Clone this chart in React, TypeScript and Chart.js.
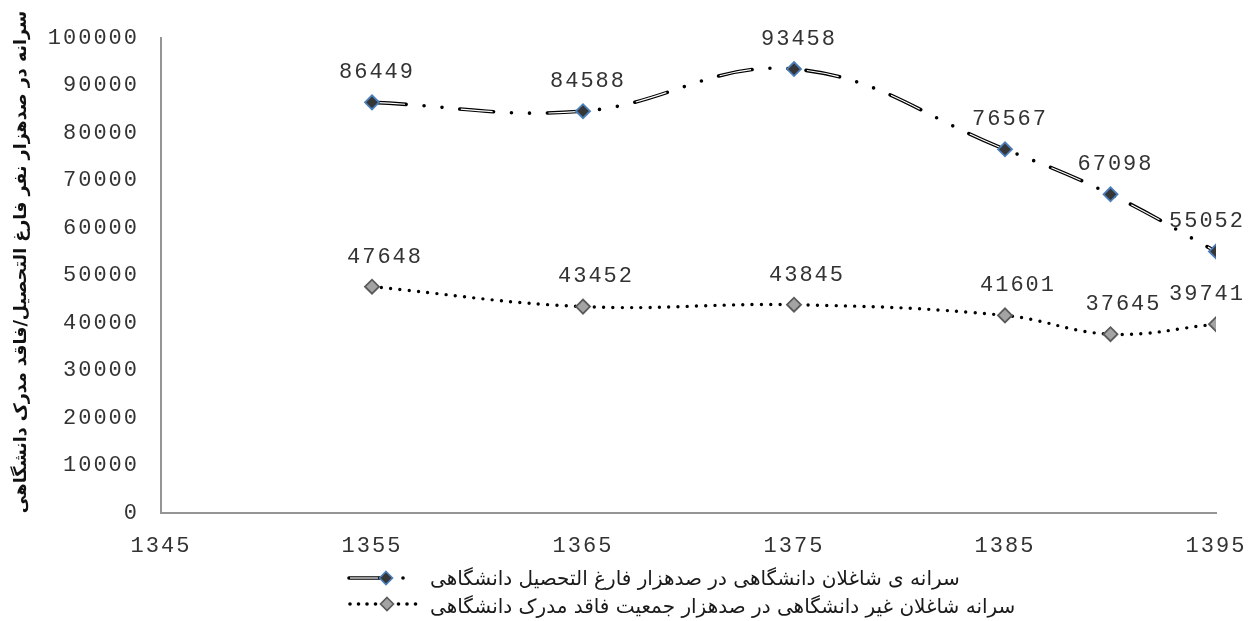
import React, { useEffect, useRef } from "react";
import { Chart, registerables } from "chart.js";

Chart.register(...registerables);

// ---- data ----
const years = [1355, 1365, 1375, 1385, 1390, 1395];
const graduatesRate = [86449, 84588, 93458, 76567, 67098, 55052];
const nonGraduatesRate = [47648, 43452, 43845, 41601, 37645, 39741];
const xTickValues = [1345, 1355, 1365, 1375, 1385, 1395];
const yMin = 0;
const yMax = 100000;
const yStep = 10000;
const seriesNames = [
  "سرانه ی شاغلان دانشگاهی در صدهزار فارغ التحصیل دانشگاهی",
  "سرانه شاغلان غیر دانشگاهی در صدهزار جمعیت فاقد مدرک دانشگاهی",
];
const yTitle = "سرانه در صدهزار نفر فارغ التحصیل/فاقد مدرک دانشگاهی";

const MONO = '"Liberation Mono", "Courier New", monospace';
const ARABIC = '"DejaVu Sans", sans-serif';
const NUM_SIZE = 22;
const NUM_SPACING = "2px";
const NUM_COLOR = "#333333";

const S1_FILL = "#363636";
const S1_BORDER = "#4a7ebb";
const S2_FILL = "#a3a3a3";
const S2_BORDER = "#5a5a5a";

function drawDiamond(ctx: CanvasRenderingContext2D, x: number, y: number, r: number, fill: string, stroke: string) {
  ctx.beginPath();
  ctx.moveTo(x, y - r);
  ctx.lineTo(x + r, y);
  ctx.lineTo(x, y + r);
  ctx.lineTo(x - r, y);
  ctx.closePath();
  ctx.fillStyle = fill;
  ctx.fill();
  ctx.lineWidth = 1.6;
  ctx.strokeStyle = stroke;
  ctx.stroke();
}

const spacingPlugin = {
  id: "numSpacing",
  beforeDraw(chart: any) {
    (chart.ctx as any).letterSpacing = NUM_SPACING;
  },
  afterDraw(chart: any) {
    (chart.ctx as any).letterSpacing = "0px";
  },
};

const valueLabelPlugin = {
  id: "valueLabels",
  afterDatasetsDraw(chart: any) {
    const ctx = chart.ctx as CanvasRenderingContext2D;
    ctx.save();
    (ctx as any).letterSpacing = NUM_SPACING;
    ctx.font = `${NUM_SIZE}px ${MONO}`;
    ctx.fillStyle = NUM_COLOR;
    ctx.textAlign = "center";
    ctx.textBaseline = "middle";
    chart.data.datasets.forEach((ds: any, di: number) => {
      if (!ds.valueLabels) return;
      const meta = chart.getDatasetMeta(di);
      meta.data.forEach((pt: any, i: number) => {
        const text = String(ds.data[i].y);
        const w = ctx.measureText(text).width;
        let x = pt.x + ds.labelDx;
        x = Math.min(x, chart.width - 4 - w / 2);
        ctx.fillText(text, x + 1, pt.y - 30);
      });
    });
    ctx.restore();
  },
};

const titleAndLegendPlugin = {
  id: "titleLegend",
  afterDraw(chart: any) {
    const ctx = chart.ctx as CanvasRenderingContext2D;
    ctx.save();
    (ctx as any).letterSpacing = "0px";
    (ctx as any).direction = "rtl";

    // y axis title
    ctx.save();
    ctx.translate(21, 262);
    ctx.rotate(-Math.PI / 2);
    ctx.font = `bold 17.5px ${ARABIC}`;
    ctx.fillStyle = "#111";
    ctx.textAlign = "center";
    ctx.textBaseline = "middle";
    ctx.fillText(yTitle, 0, 0);
    ctx.restore();

    const fontSize = 20;
    ctx.font = `${fontSize}px ${ARABIC}`;
    ctx.textAlign = "left";
    ctx.textBaseline = "middle";

    // row 1
    const y1 = 578;
    ctx.lineCap = "round";
    ctx.strokeStyle = "#000";
    ctx.lineWidth = 3.6;
    ctx.beginPath();
    ctx.moveTo(349, y1);
    ctx.lineTo(380, y1);
    ctx.stroke();
    ctx.lineCap = "butt";
    ctx.strokeStyle = "#fff";
    ctx.lineWidth = 1.2;
    ctx.beginPath();
    ctx.moveTo(350, y1);
    ctx.lineTo(378, y1);
    ctx.stroke();
    drawDiamond(ctx, 386, y1, 6.5, S1_FILL, S1_BORDER);
    ctx.fillStyle = "#000";
    ctx.beginPath();
    ctx.arc(403, y1, 1.8, 0, Math.PI * 2);
    ctx.fill();
    ctx.fillStyle = "#1a1a1a";
    ctx.fillText(seriesNames[0], 430, y1 + 2);

    // row 2
    const y2 = 604;
    ctx.fillStyle = "#000";
    [350, 358.5, 367, 375.5, 398.5, 407, 415.5].forEach((dx) => {
      ctx.beginPath();
      ctx.arc(dx, y2, 1.8, 0, Math.PI * 2);
      ctx.fill();
    });
    drawDiamond(ctx, 387, y2, 6.5, S2_FILL, S2_BORDER);
    ctx.fillStyle = "#1a1a1a";
    ctx.fillText(seriesNames[1], 430, y2 + 4);
    ctx.restore();
  },
};

export default function App() {
  const canvasRef = useRef<HTMLCanvasElement | null>(null);

  useEffect(() => {
    if (!canvasRef.current) return;
    const pts = (vals: number[]) => years.map((x, i) => ({ x, y: vals[i] }));

    const chart = new Chart(canvasRef.current, {
      type: "line",
      data: {
        datasets: [
          {
            label: seriesNames[0],
            data: pts(graduatesRate),
            showLine: false,
            pointStyle: "rectRot",
            pointRadius: 7,
            pointBackgroundColor: S1_FILL,
            pointBorderColor: S1_BORDER,
            pointBorderWidth: 1.8,
            order: 1,
            valueLabels: true,
            labelDx: 4,
          } as any,
          {
            label: seriesNames[1],
            data: pts(nonGraduatesRate),
            borderColor: "#000",
            borderWidth: 3.4,
            borderDash: [0, 9.3],
            borderCapStyle: "round",
            tension: 0.4,
            pointStyle: "rectRot",
            pointRadius: 7,
            pointBackgroundColor: S2_FILL,
            pointBorderColor: S2_BORDER,
            pointBorderWidth: 1.8,
            order: 2,
            valueLabels: true,
            labelDx: 12,
          } as any,
          {
            label: "inner",
            data: pts(graduatesRate),
            borderColor: "#ffffff",
            borderWidth: 1.2,
            borderDash: [32, 56],
            borderDashOffset: -1,
            borderCapStyle: "butt",
            tension: 0.4,
            pointRadius: 0,
            order: 3,
          } as any,
          {
            label: "outer",
            data: pts(graduatesRate),
            borderColor: "#000000",
            borderWidth: 3.6,
            borderDash: [34, 18, 0, 18, 0, 18],
            borderCapStyle: "round",
            tension: 0.4,
            pointRadius: 0,
            order: 4,
          } as any,
        ],
      },
      options: {
        animation: false,
        responsive: true,
        maintainAspectRatio: false,
        layout: { padding: { top: 38, right: 32, bottom: 0, left: 0 } },
        plugins: {
          legend: { display: false },
          tooltip: { enabled: false },
        },
        scales: {
          x: {
            type: "linear",
            min: 1345,
            max: 1395,
            grid: { display: false, drawTicks: false },
            border: { display: true, color: "#959595", width: 2 },
            afterBuildTicks: (s: any) => {
              s.ticks = xTickValues.map((v) => ({ value: v }));
            },
            afterFit: (s: any) => {
              s.height = 108;
              s.paddingLeft = 0;
              s.paddingRight = 0;
            },
            ticks: {
              padding: 20,
              color: NUM_COLOR,
              font: { family: MONO, size: NUM_SIZE },
              maxRotation: 0,
              autoSkip: false,
              callback: (v: any) => String(v),
            },
          },
          y: {
            type: "linear",
            min: yMin,
            max: yMax,
            grid: { display: false, drawTicks: false },
            border: { display: true, color: "#959595", width: 2 },
            afterFit: (s: any) => {
              s.width = 161;
              s.paddingTop = 0;
              s.paddingBottom = 0;
            },
            ticks: {
              stepSize: yStep,
              padding: 22,
              color: NUM_COLOR,
              font: { family: MONO, size: NUM_SIZE },
              callback: (v: any) => String(v),
            },
          },
        },
      },
      plugins: [spacingPlugin, valueLabelPlugin, titleAndLegendPlugin],
    } as any);

    return () => chart.destroy();
  }, []);

  return (
    <div style={{ position: "absolute", left: 0, top: 0, width: 1248, height: 621, background: "#fff" }}>
      <canvas ref={canvasRef} />
    </div>
  );
}
